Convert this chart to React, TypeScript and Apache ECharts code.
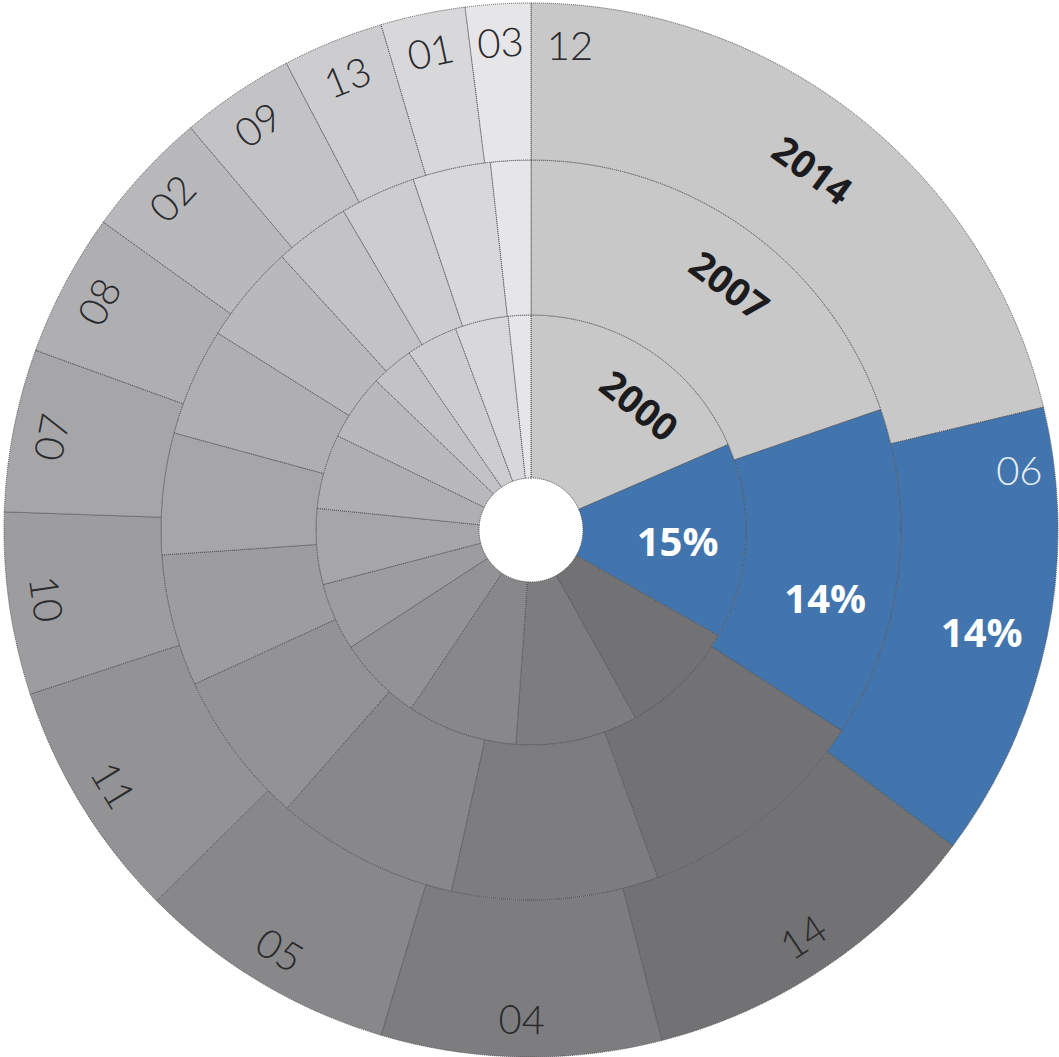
import React, { useEffect, useRef } from 'react';
import * as echarts from 'echarts';

// Categories in clockwise order starting from 12 o'clock
const categories = ['12', '06', '14', '04', '05', '11', '10', '07', '08', '02', '09', '13', '01', '03'];
const years = ['2000', '2007', '2014'];
// Shares (%) per ring
const values2000 = [18.5, 14.7, 8.75, 9.2, 8.3, 6.4, 5.1, 5.7, 5.6, 5.0, 3.2, 3.9, 4.0, 1.7];
const values2007 = [19.7, 14.4, 10.3, 9.0, 8.0, 6.7, 5.75, 5.3, 4.7, 4.3, 3.3, 3.3, 3.4, 1.75];
const values2014 = [21.3, 14.0, 10.8, 8.6, 8.0, 7.4, 5.6, 5.0, 4.4, 3.9, 3.5, 3.1, 2.6, 2.0];
const highlighted = '06';
const baseCategory = '12';

const colors = [
  '#c8c8c9', '#4275ae', '#727274', '#7d7d80', '#88888b', '#939396', '#9d9da0',
  '#a6a6a9', '#afafb2', '#b9b9bc', '#c3c3c6', '#cdcdd0', '#d8d8da', '#e6e6e8',
];

const CX = 531;
const CY = 530;
const ringRadii: [number, number][] = [[52, 215], [215, 370], [370, 527]];
const ringValues = [values2000, values2007, values2014];

const thinFont = 'Lato, "Open Sans", "DejaVu Sans", sans-serif';
const boldFont = '"Open Sans", "Noto Sans", "DejaVu Sans", sans-serif';

function polar(angleDeg: number, r: number) {
  const a = (angleDeg * Math.PI) / 180;
  return { x: CX + r * Math.sin(a), y: CY - r * Math.cos(a) };
}

export default function App() {
  const ref = useRef<HTMLDivElement>(null);

  useEffect(() => {
    if (!ref.current) return;
    const chart = echarts.init(ref.current, undefined, { renderer: 'svg' });

    const ringSeries = ringValues.map((vals, k) => ({
      type: 'pie',
      name: years[k],
      center: [CX, CY],
      radius: ringRadii[k],
      startAngle: 90,
      clockwise: true,
      silent: true,
      avoidLabelOverlap: false,
      emphasis: { disabled: true },
      label: { show: false },
      labelLine: { show: false },
      itemStyle: { borderColor: '#4e4e50', borderWidth: 1, borderType: 'dotted' },
      data: categories.map((c, i) => ({ name: c, value: vals[i], itemStyle: { color: colors[i] } })),
    }));

    // transparent ring only used to place the category labels of the outer ring
    const labelSeries = {
      type: 'pie',
      name: 'labels',
      center: [CX, CY],
      radius: [445, 527],
      startAngle: 90,
      clockwise: true,
      silent: true,
      avoidLabelOverlap: false,
      emphasis: { disabled: true },
      labelLine: { show: false },
      itemStyle: { color: 'rgba(0,0,0,0)', borderWidth: 0 },
      label: {
        show: true,
        position: 'inside',
        rotate: 'tangential',
        formatter: '{b}',
        fontFamily: thinFont,
        fontWeight: 300,
        fontSize: 40,
        color: '#2a2a2c',
      },
      data: categories.map((c, i) => ({
        name: c,
        value: values2014[i],
        label: { show: c !== highlighted && c !== baseCategory },
      })),
    };

    const hiIdx = categories.indexOf(highlighted);
    const baseIdx = categories.indexOf(baseCategory);

    const graphics: any[] = [];
    const mkText = (x: number, y: number, text: string, fill: string, font: string, rotation = 0) => ({
      type: 'text', x, y, rotation, silent: true, z: 100, zlevel: 0,
      style: { text, fill, font, textAlign: 'center', textVerticalAlign: 'middle', align: 'center', verticalAlign: 'middle' },
    });

    // category labels of the two special slices
    const p12 = polar(4.6, 487);
    graphics.push(mkText(p12.x, p12.y, categories[baseIdx], '#2a2a2c', `300 40px ${thinFont}`));
    const p06 = polar(83, 492);
    graphics.push(mkText(p06.x, p06.y, categories[hiIdx], '#e6edf5', `300 40px ${thinFont}`));

    // year labels inside the base slice
    const yearPos = [[41, 166], [39, 316], [38, 458]];
    years.forEach((y, k) => {
      const p = polar(yearPos[k][0], yearPos[k][1]);
      graphics.push(mkText(p.x, p.y, y, '#1c1c1e', `bold 38px ${boldFont}`, (-(yearPos[k][0] - 2) * Math.PI) / 180));
    });

    // percentage labels of the highlighted slice
    const pctPos = [[94, 147], [103, 302], [102.7, 462]];
    ringValues.forEach((vals, k) => {
      const p = polar(pctPos[k][0], pctPos[k][1]);
      graphics.push(mkText(p.x, p.y, `${Math.round(vals[hiIdx])}%`, '#ffffff', `bold 40px ${boldFont}`));
    });

    chart.setOption({
      animation: false,
      backgroundColor: '#ffffff',
      series: [...ringSeries, labelSeries],
      graphic: { elements: graphics },
    } as any);

    return () => chart.dispose();
  }, []);

  return (
    <div
      ref={ref}
      style={{ position: 'fixed', left: 0, top: 0, width: 1059, height: 1057, background: '#ffffff' }}
    />
  );
}
